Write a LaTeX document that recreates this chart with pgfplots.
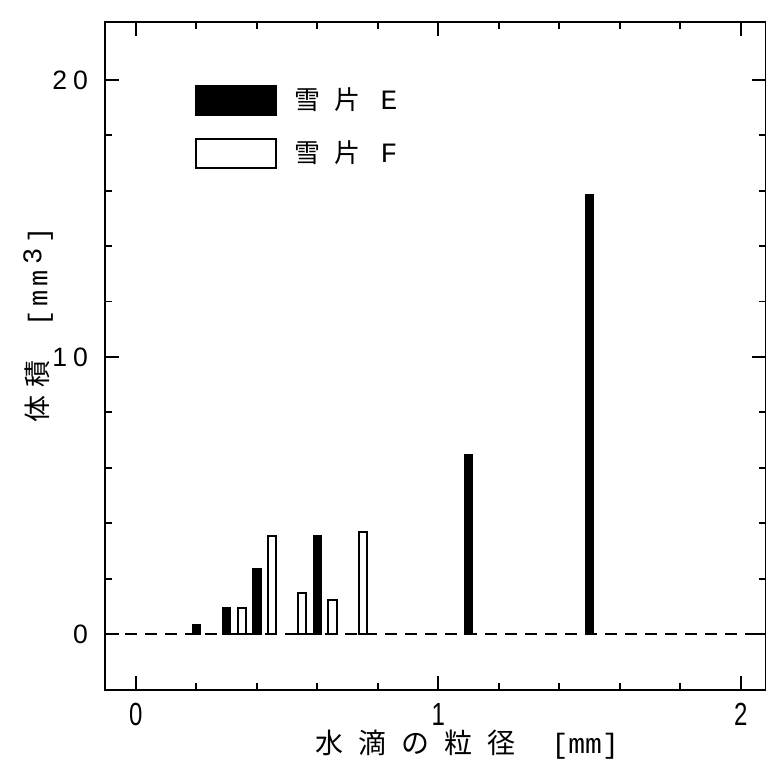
\documentclass[border=0pt]{standalone}
\usepackage{fontspec}
\setmainfont{Liberation Sans}
\newfontfamily\cjk{Noto Sans CJK JP}
\newfontfamily\tw{Liberation Mono}
\usepackage{pgfplots}
\pgfplotsset{compat=1.18}

% one scanned pixel = 0.5pt
\pgfplotsset{legbox/.style={legend image code/.code={\draw[##1, line width=1pt] (0pt,-7.25pt) rectangle (40pt,7.25pt);}}}

\begin{document}
\begin{tikzpicture}
\path[use as bounding box] (-52.5pt,-37pt) rectangle (330.5pt,345pt);
\begin{axis}[at={(0,0)}, anchor=south west, scale only axis,
  width=330.5pt, height=334pt,
  xmin=-0.102, xmax=2.083, ymin=-2.02, ymax=22.09,
  axis line style={line width=1pt},
  xtick={0,1,2}, minor x tick num=4,
  ytick={0,10,20}, minor y tick num=4,
  yticklabels={0,1\hspace{3pt}0,2\hspace{3pt}0},
  tick style={line width=0.9pt, black},
  major tick length=7pt, minor tick length=3.5pt,
  tick align=inside,
  /pgf/number format/assume math mode=true,
  xticklabel style={font=\fontsize{16}{16}\selectfont, yshift=-3pt},
  xticklabel={\scalebox{0.75}[1]{\pgfmathprintnumber{\tick}}},
  yticklabel style={font=\fontsize{13.3}{13.3}\selectfont, xshift=-5pt},
  xlabel={{\cjk 水\hspace{7.5pt}滴\hspace{7.5pt}の\hspace{7.5pt}粒\hspace{7.5pt}径}\hspace{18pt}{\tw [mm]}},
  xlabel style={font=\fontsize{14}{14}\selectfont, at={(rel axis cs:0.548,-0.082)}, anchor=center},
  ylabel={{\cjk 体\hspace{4pt}積}\hspace{17pt}{\tw [\hspace{2pt}m\hspace{2pt}m\hspace{3pt}\raisebox{3pt}{3}\hspace{2pt}]}},
  ylabel style={font=\fontsize{13.5}{13.5}\selectfont, at={(rel axis cs:-0.101,0.546)}, anchor=center, rotate=0},
  legend style={draw=none, fill=none, at={(rel axis cs:0.135,0.908)}, anchor=north west,
    font=\fontsize{13}{13}\selectfont, row sep=10pt, inner sep=0pt,
    /tikz/every odd column/.style={column sep=7pt}},
  legend cell align=left,
  clip=false]
\addplot[black, line width=1.2pt, dash pattern=on 6pt off 4pt, forget plot] coordinates {(-0.102,0) (2.083,0)};
\addplot[ybar, bar width=0.025, bar shift=0pt, fill=black, draw=black, line width=1pt, legbox]
  coordinates {(0.2,0.33) (0.3,0.94) (0.4,2.35) (0.6,3.54) (1.1,6.46) (1.5,15.85)};
\addlegendentry{{\cjk 雪\hspace{7pt}片}\hspace{10pt}{\tw\fontsize{14}{14}\selectfont E}}
\addplot[ybar, bar width=0.027, bar shift=0pt, fill=white, draw=black, line width=1pt, legbox]
  coordinates {(0.35,0.94) (0.45,3.54) (0.55,1.48) (0.65,1.23) (0.75,3.68)};
\addlegendentry{{\cjk 雪\hspace{7pt}片}\hspace{10pt}{\tw\fontsize{14}{14}\selectfont F}}
\end{axis}
\end{tikzpicture}
\end{document}
